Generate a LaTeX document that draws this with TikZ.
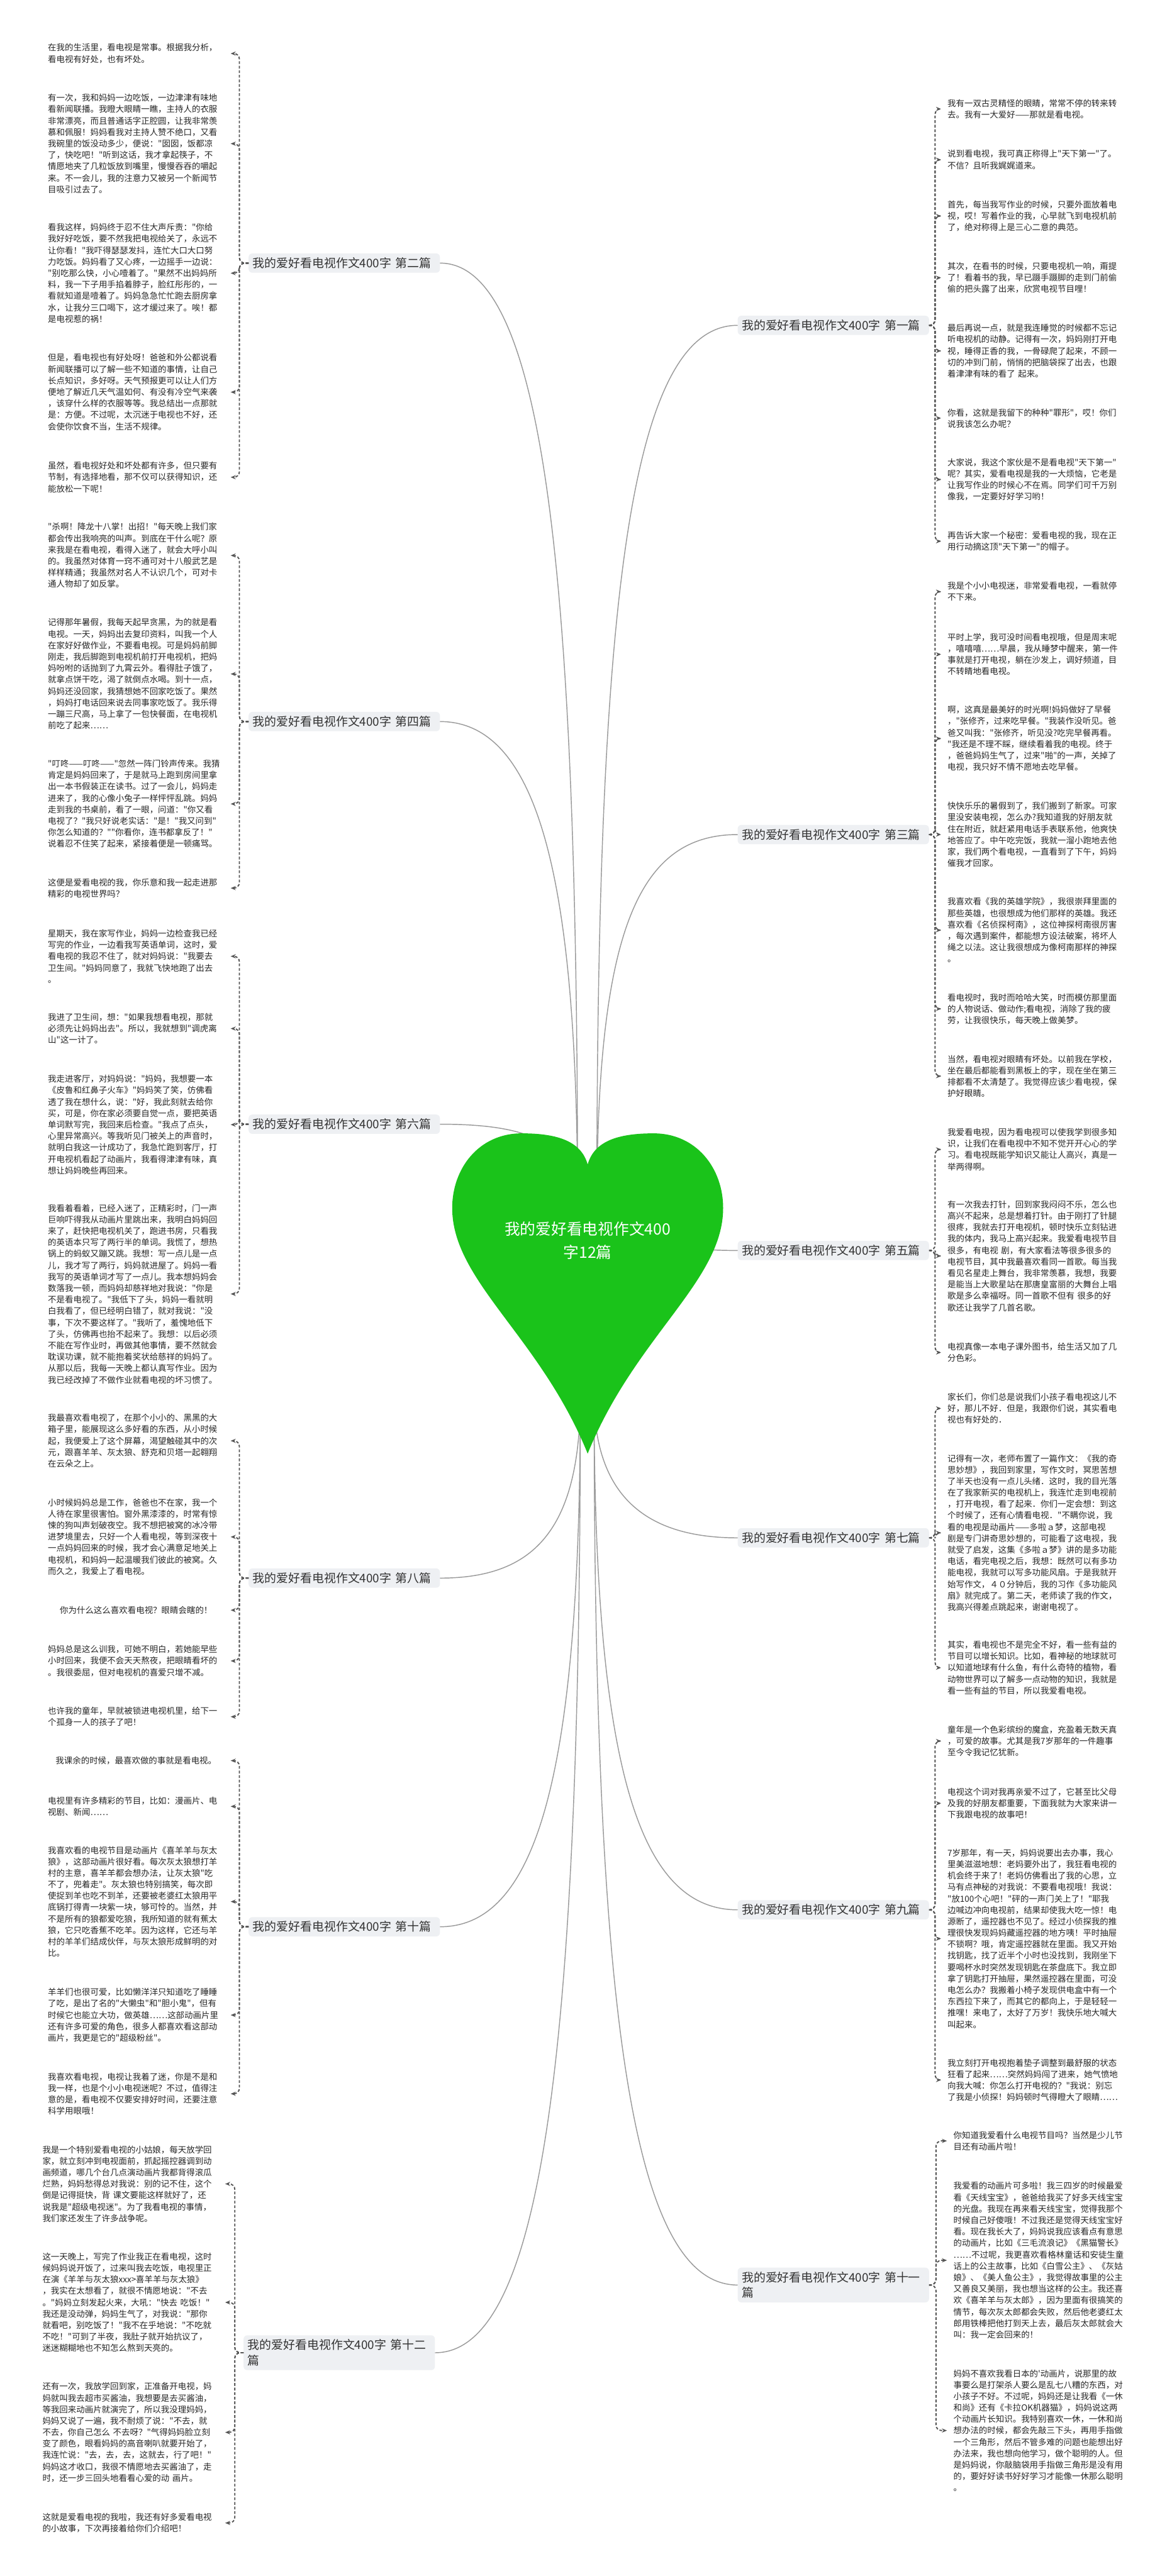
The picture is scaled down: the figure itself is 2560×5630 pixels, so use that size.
\documentclass[tikz,border=0pt]{standalone}
\usepackage{fontspec}
\newfontfamily\cjkfont{Noto Sans CJK SC}
\usepackage{xcolor}
\usepackage{tikz}
\usetikzlibrary{arrows.meta, positioning}

\definecolor{topicfill}{HTML}{EEF0F3}
\definecolor{heartgreen}{HTML}{1AC31A}
\definecolor{linkgray}{HTML}{9A9A9A}
\definecolor{dashgray}{HTML}{555555}

\begin{document}
\begin{tikzpicture}[
  x=1pt, y=-1pt,
  topic/.style={rectangle, fill=topicfill, rounded corners=8pt, text width=400pt,
                align=left, inner sep=9pt, text=black!80,
                font=\cjkfont\fontsize{26}{34}\selectfont},
  leaf/.style={inner sep=0pt, text width=385pt, align=left, text=black!85,
               font=\cjkfont\fontsize{18.5}{25}\selectfont},
  leafc/.style={leaf, align=center},
  roottext/.style={text width=380pt, align=center, text=white, inner sep=0pt,
                   font=\cjkfont\fontsize{34}{50}\selectfont},
  link/.style={line width=2pt, color=linkgray},
  bracket/.style={line width=2.6pt, color=dashgray, dash pattern=on 6pt off 4pt,
                  rounded corners=12pt, -{Stealth[length=11pt,width=9pt]}, shorten >=14pt}
]
\useasboundingbox (0,0) rectangle (2560,5630);

% left column, 第二篇
\node[leaf, anchor=east] (l2a) at (490,117) {在我的生活里，看电视是常事。根据我分析，\\看电视有好处，也有坏处。};
\node[leaf, anchor=east] (l2b) at (490,314) {有一次，我和妈妈一边吃饭，一边津津有味地\\看新闻联播。我瞪大眼睛一瞧，主持人的衣服\\非常漂亮，而且普通话字正腔圆，让我非常羡\\慕和佩服！妈妈看我对主持人赞不绝口，又看\\我碗里的饭没动多少，便说："囡囡，饭都凉\\了，快吃吧！"听到这话，我才拿起筷子，不\\情愿地夹了几粒饭放到嘴里，慢慢吞吞的嚼起\\来。不一会儿，我的注意力又被另一个新闻节\\目吸引过去了。};
\node[leaf, anchor=east] (l2c) at (490,597) {看我这样，妈妈终于忍不住大声斥责："你给\\我好好吃饭，要不然我把电视给关了，永远不\\让你看！"我吓得瑟瑟发抖，连忙大口大口努\\力吃饭。妈妈看了又心疼，一边摇手一边说：\\"别吃那么快，小心噎着了。"果然不出妈妈所\\料，我一下子用手掐着脖子，脸红彤彤的，一\\看就知道是噎着了。妈妈急急忙忙跑去厨房拿\\水，让我分三口喝下，这才缓过来了。唉！都\\是电视惹的祸！};
\node[leaf, anchor=east] (l2d) at (490,857) {但是，看电视也有好处呀！爸爸和外公都说看\\新闻联播可以了解一些不知道的事情，让自己\\长点知识，多好呀。天气预报更可以让人们方\\便地了解近几天气温如何、有没有冷空气来袭\\，该穿什么样的衣服等等。我总结出一点那就\\是：方便。不过呢，太沉迷于电视也不好，还\\会使你饮食不当，生活不规律。};
\node[leaf, anchor=east] (l2e) at (490,1043) {虽然，看电视好处和坏处都有许多，但只要有\\节制，有选择地看，那不仅可以获得知识，还\\能放松一下呢！};

% left column, 第四篇
\node[leaf, anchor=east] (l4a) at (490,1214) {"杀啊！降龙十八掌！出招！"每天晚上我们家\\都会传出我响亮的叫声。到底在干什么呢？原\\来我是在看电视，看得入迷了，就会大呼小叫\\的。我虽然对体育一窍不通可对十八般武艺是\\样样精通；我虽然对名人不认识几个，可对卡\\通人物却了如反掌。};
\node[leaf, anchor=east] (l4b) at (490,1473) {记得那年暑假，我每天起早贪黑，为的就是看\\电视。一天，妈妈出去复印资料，叫我一个人\\在家好好做作业，不要看电视。可是妈妈前脚\\刚走，我后脚跑到电视机前打开电视机，把妈\\妈吩咐的话抛到了九霄云外。看得肚子饿了，\\就拿点饼干吃，渴了就倒点水喝。到十一点，\\妈妈还没回家，我猜想她不回家吃饭了。果然\\，妈妈打电话回来说去同事家吃饭了。我乐得\\一蹦三尺高，马上拿了一包快餐面，在电视机\\前吃了起来……};
\node[leaf, anchor=east] (l4c) at (490,1757) {"叮咚——叮咚——"忽然一阵门铃声传来。我猜\\肯定是妈妈回来了，于是就马上跑到房间里拿\\出一本书假装正在读书。过了一会儿，妈妈走\\进来了，我的心像小兔子一样怦怦乱跳。妈妈\\走到我的书桌前，看了一眼，问道："你又看\\电视了？"我只好说老实话："是！"我又问到"\\你怎么知道的？""你看你，连书都拿反了！"\\说着忍不住笑了起来，紧接着便是一顿痛骂。};
\node[leaf, anchor=east] (l4d) at (490,1941) {这便是爱看电视的我，你乐意和我一起走进那\\精彩的电视世界吗？};

% left column, 第六篇
\node[leaf, anchor=east] (l6a) at (490,2090) {星期天，我在家写作业，妈妈一边检查我已经\\写完的作业，一边看我写英语单词，这时，爱\\看电视的我忍不住了，就对妈妈说："我要去\\卫生间。"妈妈同意了，我就飞快地跑了出去\\。};
\node[leaf, anchor=east] (l6b) at (490,2248) {我进了卫生间，想："如果我想看电视，那就\\必须先让妈妈出去"。所以，我就想到"调虎离\\山"这一计了。};
\node[leaf, anchor=east] (l6c) at (490,2458) {我走进客厅，对妈妈说："妈妈，我想要一本\\《皮鲁和红鼻子火车》"妈妈笑了笑，仿佛看\\透了我在想什么，说："好，我此刻就去给你\\买，可是，你在家必须要自觉一点，要把英语\\单词默写完，我回来后检查。"我点了点头，\\心里异常高兴。等我听见门被关上的声音时，\\就明白我这一计成功了，我急忙跑到客厅，打\\开电视机看起了动画片，我看得津津有味，真\\想让妈妈晚些再回来。};
\node[leaf, anchor=east] (l6d) at (490,2828) {我看着看着，已经入迷了，正精彩时，门一声\\巨响吓得我从动画片里跳出来，我明白妈妈回\\来了，赶快把电视机关了，跑进书房，只看我\\的英语本只写了两行半的单词。我慌了，想热\\锅上的蚂蚁又蹦又跳。我想：写一点儿是一点\\儿，我才写了两行，妈妈就进屋了。妈妈一看\\我写的英语单词才写了一点儿。我本想妈妈会\\数落我一顿，而妈妈却慈祥地对我说："你是\\不是看电视了。"我低下了头，妈妈一看就明\\白我看了，但已经明白错了，就对我说："没\\事，下次不要这样了。"我听了，羞愧地低下\\了头，仿佛再也抬不起来了。我想：以后必须\\不能在写作业时，再做其他事情，要不然就会\\耽误功课，就不能抱着奖状给慈祥的妈妈了。\\从那以后，我每一天晚上都认真写作业。因为\\我已经改掉了不做作业就看电视的坏习惯了。};

% left column, 第八篇
\node[leaf, anchor=east] (l8a) at (490,3149) {我最喜欢看电视了，在那个小小的、黑黑的大\\箱子里，能展现这么多好看的东西，从小时候\\起，我便爱上了这个屏幕，渴望触碰其中的次\\元，跟喜羊羊、灰太狼、舒克和贝塔一起翱翔\\在云朵之上。};
\node[leaf, anchor=east] (l8b) at (490,3359) {小时候妈妈总是工作，爸爸也不在家，我一个\\人待在家里很害怕。窗外黑漆漆的，时常有惊\\悚的狗叫声划破夜空。我不想把被窝的冰冷带\\进梦境里去，只好一个人看电视，等到深夜十\\一点妈妈回来的时候，我才会心满意足地关上\\电视机，和妈妈一起温暖我们彼此的被窝。久\\而久之，我爱上了看电视。};
\node[leafc, anchor=east] (l8c) at (490,3519) {你为什么这么喜欢看电视？眼睛会瞎的！};
\node[leaf, anchor=east] (l8d) at (490,3630) {妈妈总是这么训我，可她不明白，若她能早些\\小时回来，我便不会天天熬夜，把眼睛看坏的\\。我很委屈，但对电视机的喜爱只增不减。};
\node[leaf, anchor=east] (l8e) at (490,3752) {也许我的童年，早就被锁进电视机里，给下一\\个孤身一人的孩子了吧！};

% left column, 第十篇
\node[leafc, anchor=east] (l10a) at (490,3848) {我课余的时候，最喜欢做的事就是看电视。};
\node[leaf, anchor=east] (l10b) at (490,3948) {电视里有许多精彩的节目，比如：漫画片、电\\视剧、新闻……};
\node[leaf, anchor=east] (l10c) at (490,4156) {我喜欢看的电视节目是动画片《喜羊羊与灰太\\狼》，这部动画片很好看。每次灰太狼想打羊\\村的主意，喜羊羊都会想办法，让灰太狼"吃\\不了，兜着走"。灰太狼也特别搞笑，每次即\\使捉到羊也吃不到羊，还要被老婆红太狼用平\\底锅打得青一块紫一块，够可怜的。当然，并\\不是所有的狼都爱吃狼，我所知道的就有蕉太\\狼，它只吃香蕉不吃羊。因为这样，它还与羊\\村的羊羊们结成伙伴，与灰太狼形成鲜明的对\\比。};
\node[leaf, anchor=east] (l10d) at (490,4404) {羊羊们也很可爱，比如懒洋洋只知道吃了睡睡\\了吃，是出了名的"大懒虫"和"胆小鬼"，但有\\时候它也能立大功，做英雄……这部动画片里\\还有许多可爱的角色，很多人都喜欢看这部动\\画片，我更是它的"超级粉丝"。};
\node[leaf, anchor=east] (l10e) at (490,4576) {我喜欢看电视，电视让我着了迷，你是不是和\\我一样，也是个小小电视迷呢？不过，值得注\\意的是，看电视不仅要安排好时间，还要注意\\科学用眼哦！};

% left column, 第十二篇
\node[leaf, anchor=east] (l12a) at (478,4773) {我是一个特别爱看电视的小姑娘，每天放学回\\家，就立刻冲到电视面前，抓起摇控器调到动\\画频道，哪几个台几点演动画片我都背得滚瓜\\烂熟，妈妈愁得总对我说：别的记不住，这个\\倒是记得挺快，背~课文要能这样就好了，还\\说我是"超级电视迷"。为了我看电视的事情，\\我们家还发生了许多战争呢。};
\node[leaf, anchor=east] (l12b) at (478,5032) {这一天晚上，写完了作业我正在看电视，这时\\候妈妈说开饭了，过来叫我去吃饭，电视里正\\在演《羊羊与灰太狼xxx>喜羊羊与灰太狼》\\，我实在太想看了，就很不情愿地说："不去\\。"妈妈立刻发起火来，大吼："快去~吃饭！"\\我还是没动弹，妈妈生气了，对我说："那你\\就看吧，别吃饭了！"我不在乎地说："不吃就\\不吃！"可到了半夜，我肚子就开始抗议了，\\迷迷糊糊地也不知怎么熬到天亮的。};
\node[leaf, anchor=east] (l12c) at (478,5316) {还有一次，我放学回到家，正准备开电视，妈\\妈就叫我去超市买酱油，我想要是去买酱油，\\等我回来动画片就演完了，所以我没理妈妈，\\妈妈又说了一遍，我不耐烦了说："不去，就\\不去，你自己怎么~不去呀？"气得妈妈脸立刻\\变了颜色，眼看妈妈的高音喇叭就要开始了，\\我连忙说："去，去，去，这就去，行了吧！"\\妈妈这才收口，我很不情愿地去买酱油了，走\\时，还一步三回头地看看心爱的动~画片。};
\node[leaf, anchor=east] (l12d) at (478,5514) {这就是爱看电视的我啦，我还有好多爱看电视\\的小故事，下次再接着给你们介绍吧！};

% right column, 第一篇
\node[leaf, anchor=west] (r1a) at (2070,238) {我有一双古灵精怪的眼睛，常常不停的转来转\\去。我有一大爱好——那就是看电视。};
\node[leaf, anchor=west] (r1b) at (2070,349) {说到看电视，我可真正称得上"天下第一"了。\\不信？且听我娓娓道来。};
\node[leaf, anchor=west] (r1c) at (2070,472) {首先，每当我写作业的时候，只要外面放着电\\视，哎！写着作业的我，心早就飞到电视机前\\了，绝对称得上是三心二意的典范。};
\node[leaf, anchor=west] (r1d) at (2070,607) {其次，在看书的时候，只要电视机一响，甭提\\了！看着书的我，早已蹑手蹑脚的走到门前偷\\偷的把头露了出来，欣赏电视节目哩！};
\node[leaf, anchor=west] (r1e) at (2070,767) {最后再说一点，就是我连睡觉的时候都不忘记\\听电视机的动静。记得有一次，妈妈刚打开电\\视，睡得正香的我，一骨碌爬了起来，不顾一\\切的冲到门前，悄悄的把脑袋探了出去，也跟\\着津津有味的看了~起来。};
\node[leaf, anchor=west] (r1f) at (2070,914) {你看，这就是我留下的种种"罪形"，哎！你们\\说我该怎么办呢？};
\node[leaf, anchor=west] (r1g) at (2070,1048) {大家说，我这个家伙是不是看电视"天下第一"\\呢？其实，爱看电视是我的一大烦恼，它老是\\让我写作业的时候心不在焉。同学们可千万别\\像我，一定要好好学习哟！};
\node[leaf, anchor=west] (r1h) at (2070,1183) {再告诉大家一个秘密：爱看电视的我，现在正\\用行动摘这顶"天下第一"的帽子。};

% right column, 第三篇
\node[leaf, anchor=west] (r3a) at (2070,1293) {我是个小小电视迷，非常爱看电视，一看就停\\不下来。};
\node[leaf, anchor=west] (r3b) at (2070,1430) {平时上学，我可没时间看电视哦，但是周末呢\\，嘻嘻嘻……早晨，我从睡梦中醒来，第一件\\事就是打开电视，躺在沙发上，调好频道，目\\不转睛地看电视。};
\node[leaf, anchor=west] (r3c) at (2070,1614) {啊，这真是最美好的时光啊!妈妈做好了早餐\\，"张修齐，过来吃早餐。"我装作没听见。爸\\爸又叫我："张修齐，听见没?吃完早餐再看。\\"我还是不理不睬，继续看着我的电视。终于\\，爸爸妈妈生气了，过来"啪"的一声，关掉了\\电视，我只好不情不愿地去吃早餐。};
\node[leaf, anchor=west] (r3d) at (2070,1824) {快快乐乐的暑假到了，我们搬到了新家。可家\\里没安装电视，怎么办?我知道我的好朋友就\\住在附近，就赶紧用电话手表联系他，他爽快\\地答应了。中午吃完饭，我就一溜小跑地去他\\家，我们两个看电视，一直看到了下午，妈妈\\催我才回家。};
\node[leaf, anchor=west] (r3e) at (2070,2033) {我喜欢看《我的英雄学院》，我很崇拜里面的\\那些英雄，也很想成为他们那样的英雄。我还\\喜欢看《名侦探柯南》，这位神探柯南很厉害\\，每次遇到案件，都能想方设法破案，将坏人\\绳之以法。这让我很想成为像柯南那样的神探\\。};
\node[leaf, anchor=west] (r3f) at (2070,2205) {看电视时，我时而哈哈大笑，时而模仿那里面\\的人物说话、做动作;看电视，消除了我的疲\\劳，让我很快乐，每天晚上做美梦。};
\node[leaf, anchor=west] (r3g) at (2070,2352) {当然，看电视对眼睛有坏处。以前我在学校，\\坐在最后都能看到黑板上的字，现在坐在第三\\排都看不太清楚了。我觉得应该少看电视，保\\护好眼睛。};

% right column, 第五篇
\node[leaf, anchor=west] (r5a) at (2070,2512) {我爱看电视，因为看电视可以使我学到很多知\\识，让我们在看电视中不知不觉开开心心的学\\习。看电视既能学知识又能让人高兴，真是一\\举两得啊。};
\node[leaf, anchor=west] (r5b) at (2070,2745) {有一次我去打针，回到家我闷闷不乐，怎么也\\高兴不起来，总是想着打针。由于刚打了针腿\\很疼，我就去打开电视机，顿时快乐立刻钻进\\我的体内，我马上高兴起来。我爱看电视节目\\很多，有电视~剧，有大家看法等很多很多的\\电视节目，其中我最喜欢看同一首歌。每当我\\看见名星走上舞台，我非常羡慕，我想，我要\\是能当上大歌星站在那唐皇富丽的大舞台上唱\\歌是多么幸福呀。同一首歌不但有~很多的好\\歌还让我学了几首名歌。};
\node[leaf, anchor=west] (r5c) at (2070,2956) {电视真像一本电子课外图书，给生活又加了几\\分色彩。};

% right column, 第七篇
\node[leaf, anchor=west] (r7a) at (2070,3078) {家长们，你们总是说我们小孩子看电视这儿不\\好，那儿不好．但是，我跟你们说，其实看电\\视也有好处的．};
\node[leaf, anchor=west] (r7b) at (2070,3350) {记得有一次，老师布置了一篇作文：《我的奇\\思妙想》，我回到家里，写作文时，冥思苦想\\了半天也没有一点儿头绪．这时，我的目光落\\在了我家新买的电视机上，我连忙走到电视前\\，打开电视，看了起来．你们一定会想：到这\\个时候了，还有心情看电视．"不瞒你说，我\\看的电视是动画片——多啦ａ梦，这部电视\\剧是专门讲奇思妙想的，可能看了这电视，我\\就受了启发，这集《多啦ａ梦》讲的是多功能\\电话，看完电视之后，我想：既然可以有多功\\能电视，我就可以写多功能风扇。于是我就开\\始写作文，４０分钟后，我的习作《多功能风\\扇》就完成了。第二天，老师读了我的作文，\\我高兴得差点跳起来，谢谢电视了。};
\node[leaf, anchor=west] (r7c) at (2070,3645) {其实，看电视也不是完全不好，看一些有益的\\节目可以增长知识。比如，看神秘的地球就可\\以知道地球有什么鱼，有什么奇特的植物，看\\动物世界可以了解多一点动物的知识，我就是\\看一些有益的节目，所以我爱看电视。};

% right column, 第九篇
\node[leaf, anchor=west] (r9a) at (2070,3805) {童年是一个色彩缤纷的魔盒，充盈着无数天真\\，可爱的故事。尤其是我7岁那年的一件趣事\\至今令我记忆犹新。};
\node[leaf, anchor=west] (r9b) at (2070,3941) {电视这个词对我再亲爱不过了，它甚至比父母\\及我的好朋友都重要，下面我就为大家来讲一\\下我跟电视的故事吧！};
\node[leaf, anchor=west] (r9c) at (2070,4237) {7岁那年，有一天，妈妈说要出去办事，我心\\里美滋滋地想：老妈要外出了，我狂看电视的\\机会终于来了！老妈仿佛看出了我的心思，立\\马有点神秘的对我说：不要看电视哦！我说：\\"放100个心吧！"砰的一声门关上了！"耶我\\边喊边冲向电视前，结果却使我大吃一惊！电\\源断了，遥控器也不见了。经过小侦探我的推\\理很快发现妈妈藏遥控器的地方咦！平时抽屉\\不锁啊？哦，肯定遥控器就在里面。我又开始\\找钥匙，找了近半个小时也没找到，我刚坐下\\要喝杯水时突然发现钥匙在茶盘底下。我立即\\拿了钥匙打开抽屉，果然遥控器在里面，可没\\电怎么办？我搬着小椅子发现供电盒中有一个\\东西拉下来了，而其它的都向上，于是轻轻一\\推嘿！来电了，太好了万岁！我快乐地大喊大\\叫起来。};
\node[leaf, anchor=west] (r9d) at (2070,4546) {我立刻打开电视抱着垫子调整到最舒服的状态\\狂看了起来……突然妈妈闯了进来，她气愤地\\向我大喊：你怎么打开电视的？"我说：别忘\\了我是小侦探！妈妈顿时气得瞪大了眼睛……};

% right column, 第十一篇
\node[leaf, anchor=west] (r11a) at (2083,4679) {你知道我爱看什么电视节目吗？当然是少儿节\\目还有动画片啦！};
\node[leaf, anchor=west] (r11b) at (2083,4940) {我爱看的动画片可多啦！我三四岁的时候最爱\\看《天线宝宝》，爸爸给我买了好多天线宝宝\\的光盘。我现在再来看天线宝宝，觉得我那个\\时候自己好傻哦！不过我还是觉得天线宝宝好\\看。现在我长大了，妈妈说我应该看点有意思\\的动画片，比如《三毛流浪记》《黑猫警长》\\……不过呢，我更喜欢看格林童话和安徒生童\\话上的公主故事，比如《白雪公主》、《灰姑\\娘》、《美人鱼公主》，我觉得故事里的公主\\又善良又美丽，我也想当这样的公主。我还喜\\欢《喜羊羊与灰太郎》，因为里面有很搞笑的\\情节，每次灰太郎都会失败，然后他老婆红太\\郎用铁棒把他打到天上去，最后灰太郎就会大\\叫：我一定会回来的！};
\node[leaf, anchor=west] (r11c) at (2083,5312) {妈妈不喜欢我看日本的'动画片，说那里的故\\事要么是打架杀人要么是乱七八糟的东西，对\\小孩子不好。不过呢，妈妈还是让我看《一休\\和尚》还有《卡拉OK机器猫》，妈妈说这两\\个动画片长知识。我特别喜欢一休，一休和尚\\想办法的时候，都会先敲三下头，再用手指做\\一个三角形，然后不管多难的问题也能想出好\\办法来，我也想向他学习，做个聪明的人。但\\是妈妈说，你敲脑袋用手指做三角形是没有用\\的，要好好读书好好学习才能像一休那么聪明\\。};

% topics
\node[topic, anchor=west] (t2) at (543,575) {我的爱好看电视作文400字~第二篇};
\node[topic, anchor=west] (t4) at (543,1577) {我的爱好看电视作文400字~第四篇};
\node[topic, anchor=west] (t6) at (543,2457) {我的爱好看电视作文400字~第六篇};
\node[topic, anchor=west] (t8) at (543,3449) {我的爱好看电视作文400字~第八篇};
\node[topic, anchor=west] (t10) at (543,4211) {我的爱好看电视作文400字~第十篇};
\node[topic, anchor=west] (t12) at (532,5142) {我的爱好看电视作文400字~第十二\\篇};
\node[topic, anchor=east] (t1) at (2030,711) {我的爱好看电视作文400字~第一篇};
\node[topic, anchor=east] (t3) at (2030,1824) {我的爱好看电视作文400字~第三篇};
\node[topic, anchor=east] (t5) at (2030,2733) {我的爱好看电视作文400字~第五篇};
\node[topic, anchor=east] (t7) at (2030,3361) {我的爱好看电视作文400字~第七篇};
\node[topic, anchor=east] (t9) at (2030,4174) {我的爱好看电视作文400字~第九篇};
\node[topic, anchor=east] (t11) at (2030,4994) {我的爱好看电视作文400字~第十一\\篇};

% links from the heart
\coordinate (hubUL) at (1262,2640);
\coordinate (hubUR) at (1304,2640);
\coordinate (hubLL) at (1268,3050);
\coordinate (hubLR) at (1298,3050);
\draw[link] (hubUL) .. controls +(0,-1300) and +(240,0) .. (t2.east);
\draw[link] (hubUL) .. controls +(0,-700) and +(220,0) .. (t4.east);
\draw[link] (hubUL) .. controls +(0,-150) and +(180,0) .. (t6.east);
\draw[link] (hubLL) .. controls +(0,300) and +(200,0) .. (t8.east);
\draw[link] (hubLL) .. controls +(0,800) and +(220,0) .. (t10.east);
\draw[link] (hubLL) .. controls +(0,1400) and +(240,0) .. (t12.east);
\draw[link] (hubUR) .. controls +(0,-1300) and +(-240,0) .. (t1.west);
\draw[link] (hubUR) .. controls +(0,-600) and +(-220,0) .. (t3.west);
\draw[link] (hubUR) .. controls +(120,60) and +(-180,0) .. (t5.west);
\draw[link] (hubLR) .. controls +(0,220) and +(-200,0) .. (t7.west);
\draw[link] (hubLR) .. controls +(0,800) and +(-220,0) .. (t9.west);
\draw[link] (hubLR) .. controls +(0,1300) and +(-240,0) .. (t11.west);

% heart
\fill[heartgreen] (1284,2545)
  .. controls (1270,2495) and (1220,2477) .. (1140,2477)
  .. controls (1045,2477) and (988,2555) .. (988,2640)
  .. controls (988,2800) and (1180,2920) .. (1284,3177)
  .. controls (1388,2920) and (1580,2800) .. (1580,2640)
  .. controls (1580,2555) and (1523,2477) .. (1428,2477)
  .. controls (1348,2477) and (1298,2495) .. (1284,2545) -- cycle;
\node[roottext] (root) at (1284,2711) {我的爱好看电视作文400\\字12篇};

% brackets to the texts
\draw[bracket] (t2.west) -- ++(-20,0) |- (l2a.east);
\draw[bracket] (t2.west) -- ++(-20,0) |- (l2b.east);
\draw[bracket] (t2.west) -- ++(-20,0) |- (l2c.east);
\draw[bracket] (t2.west) -- ++(-20,0) |- (l2d.east);
\draw[bracket] (t2.west) -- ++(-20,0) |- (l2e.east);
\draw[bracket] (t4.west) -- ++(-20,0) |- (l4a.east);
\draw[bracket] (t4.west) -- ++(-20,0) |- (l4b.east);
\draw[bracket] (t4.west) -- ++(-20,0) |- (l4c.east);
\draw[bracket] (t4.west) -- ++(-20,0) |- (l4d.east);
\draw[bracket] (t6.west) -- ++(-20,0) |- (l6a.east);
\draw[bracket] (t6.west) -- ++(-20,0) |- (l6b.east);
\draw[bracket] (t6.west) -- ++(-20,0) |- (l6c.east);
\draw[bracket] (t6.west) -- ++(-20,0) |- (l6d.east);
\draw[bracket] (t8.west) -- ++(-20,0) |- (l8a.east);
\draw[bracket] (t8.west) -- ++(-20,0) |- (l8b.east);
\draw[bracket] (t8.west) -- ++(-20,0) |- (l8c.east);
\draw[bracket] (t8.west) -- ++(-20,0) |- (l8d.east);
\draw[bracket] (t8.west) -- ++(-20,0) |- (l8e.east);
\draw[bracket] (t10.west) -- ++(-20,0) |- (l10a.east);
\draw[bracket] (t10.west) -- ++(-20,0) |- (l10b.east);
\draw[bracket] (t10.west) -- ++(-20,0) |- (l10c.east);
\draw[bracket] (t10.west) -- ++(-20,0) |- (l10d.east);
\draw[bracket] (t10.west) -- ++(-20,0) |- (l10e.east);
\draw[bracket] (t12.west) -- ++(-19,0) |- (l12a.east);
\draw[bracket] (t12.west) -- ++(-19,0) |- (l12b.east);
\draw[bracket] (t12.west) -- ++(-19,0) |- (l12c.east);
\draw[bracket] (t12.west) -- ++(-19,0) |- (l12d.east);
\draw[bracket] (t1.east) -- ++(13,0) |- (r1a.west);
\draw[bracket] (t1.east) -- ++(13,0) |- (r1b.west);
\draw[bracket] (t1.east) -- ++(13,0) |- (r1c.west);
\draw[bracket] (t1.east) -- ++(13,0) |- (r1d.west);
\draw[bracket] (t1.east) -- ++(13,0) |- (r1e.west);
\draw[bracket] (t1.east) -- ++(13,0) |- (r1f.west);
\draw[bracket] (t1.east) -- ++(13,0) |- (r1g.west);
\draw[bracket] (t1.east) -- ++(13,0) |- (r1h.west);
\draw[bracket] (t3.east) -- ++(13,0) |- (r3a.west);
\draw[bracket] (t3.east) -- ++(13,0) |- (r3b.west);
\draw[bracket] (t3.east) -- ++(13,0) |- (r3c.west);
\draw[bracket] (t3.east) -- ++(13,0) |- (r3d.west);
\draw[bracket] (t3.east) -- ++(13,0) |- (r3e.west);
\draw[bracket] (t3.east) -- ++(13,0) |- (r3f.west);
\draw[bracket] (t3.east) -- ++(13,0) |- (r3g.west);
\draw[bracket] (t5.east) -- ++(13,0) |- (r5a.west);
\draw[bracket] (t5.east) -- ++(13,0) |- (r5b.west);
\draw[bracket] (t5.east) -- ++(13,0) |- (r5c.west);
\draw[bracket] (t7.east) -- ++(13,0) |- (r7a.west);
\draw[bracket] (t7.east) -- ++(13,0) |- (r7b.west);
\draw[bracket] (t7.east) -- ++(13,0) |- (r7c.west);
\draw[bracket] (t9.east) -- ++(13,0) |- (r9a.west);
\draw[bracket] (t9.east) -- ++(13,0) |- (r9b.west);
\draw[bracket] (t9.east) -- ++(13,0) |- (r9c.west);
\draw[bracket] (t9.east) -- ++(13,0) |- (r9d.west);
\draw[bracket] (t11.east) -- ++(15,0) |- (r11a.west);
\draw[bracket] (t11.east) -- ++(15,0) |- (r11b.west);
\draw[bracket] (t11.east) -- ++(15,0) |- (r11c.west);
\end{tikzpicture}
\end{document}
